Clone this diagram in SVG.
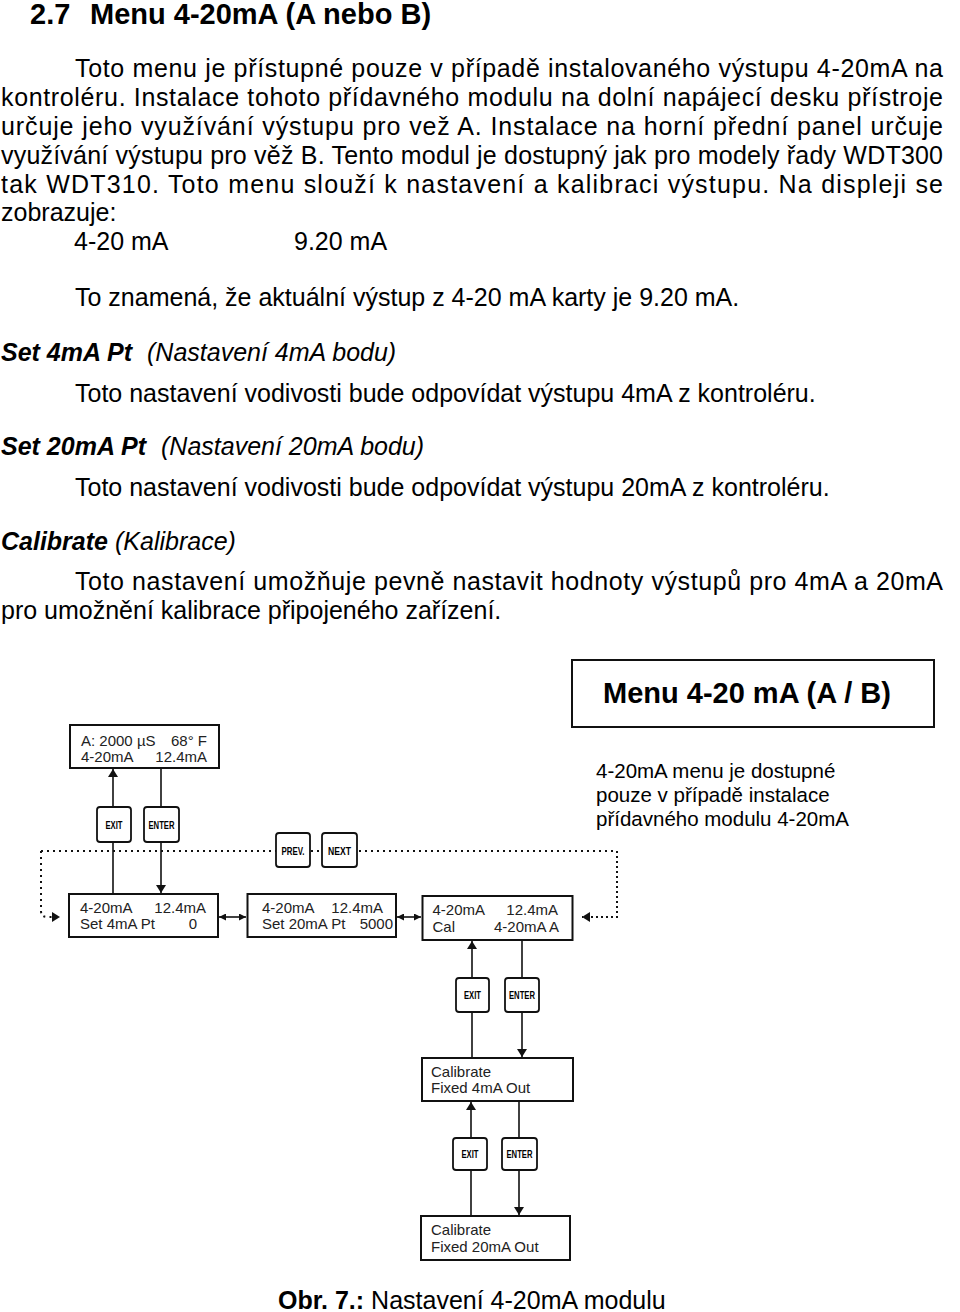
<svg xmlns="http://www.w3.org/2000/svg" width="960" height="1312" viewBox="0 0 960 1312">
<style>
text{font-family:"Liberation Sans",Arial,sans-serif;fill:#000}
.body{font-size:25px}
.h1{font-size:29px;font-weight:bold}
.bi{font-weight:bold;font-style:italic}
.it{font-style:italic}
.disp{fill:#fff;stroke:#111;stroke-width:2}
.dt{font-size:15px;fill:#222}
.btn{fill:#fff;stroke:#111;stroke-width:1.8}
.bt{font-size:10.5px;font-weight:bold;text-anchor:middle}
.ln{stroke:#111;stroke-width:1.6;fill:none}
.dot{stroke:#111;stroke-width:2;fill:none;stroke-dasharray:2 4}
.end{text-anchor:end}
</style>
<defs>
<marker id="ah" markerUnits="userSpaceOnUse" markerWidth="8" markerHeight="10" refX="8" refY="5" orient="auto"><path d="M0,0 L8,5 L0,10 z" fill="#111"/></marker>
<marker id="as" markerUnits="userSpaceOnUse" markerWidth="7" markerHeight="7" refX="7" refY="3.5" orient="auto-start-reverse"><path d="M0,0 L7,3.5 L0,7 z" fill="#111"/></marker>
</defs>

<g id="page-text">
<text class="h1" x="30" y="24">2.7<tspan x="90">Menu 4-20mA (A nebo B)</tspan></text>
<text class="body" x="75" y="77" textLength="868" lengthAdjust="spacing">Toto menu je přístupné pouze v případě instalovaného výstupu 4-20mA na</text>
<text class="body" x="1" y="106" textLength="942" lengthAdjust="spacing">kontroléru. Instalace tohoto přídavného modulu na dolní napájecí desku přístroje</text>
<text class="body" x="1" y="135" textLength="942" lengthAdjust="spacing">určuje jeho využívání výstupu pro vež A. Instalace na horní přední panel určuje</text>
<text class="body" x="1" y="164" textLength="942" lengthAdjust="spacing">využívání výstupu pro věž B. Tento modul je dostupný jak pro modely řady WDT300</text>
<text class="body" x="1" y="193" textLength="942" lengthAdjust="spacing">tak WDT310. Toto menu slouží k nastavení a kalibraci výstupu. Na displeji se</text>
<text class="body" x="1" y="221">zobrazuje:</text>
<text class="body" x="74" y="250">4-20 mA<tspan x="294">9.20 mA</tspan></text>
<text class="body" x="75" y="306">To znamená, že aktuální výstup z 4-20 mA karty je 9.20 mA.</text>
<text class="body" x="1" y="361"><tspan class="bi">Set 4mA Pt</tspan><tspan class="it" x="147">(Nastavení 4mA bodu)</tspan></text>
<text class="body" x="75" y="402">Toto nastavení vodivosti bude odpovídat výstupu 4mA z kontroléru.</text>
<text class="body" x="1" y="455"><tspan class="bi">Set 20mA Pt</tspan><tspan class="it" x="161">(Nastavení 20mA bodu)</tspan></text>
<text class="body" x="75" y="496">Toto nastavení vodivosti bude odpovídat výstupu 20mA z kontroléru.</text>
<text class="body" x="1" y="550"><tspan class="bi">Calibrate</tspan><tspan class="it" x="115">(Kalibrace)</tspan></text>
<text class="body" x="75" y="590" textLength="868" lengthAdjust="spacing">Toto nastavení umožňuje pevně nastavit hodnoty výstupů pro 4mA a 20mA</text>
<text class="body" x="1" y="619">pro umožnění kalibrace připojeného zařízení.</text>
<text class="body" x="278" y="1309"><tspan font-weight="bold">Obr. 7.:</tspan> Nastavení 4-20mA modulu</text>
</g>

<g id="connectors">
<path class="dot" d="M41,851 H617"/>
<path class="dot" d="M41,851 V911 Q41,917 47,917 H60" marker-end="url(#ah)"/>
<path class="dot" d="M617,851 V917 H582" style="stroke-dasharray:2 3" marker-end="url(#ah)"/>
<line class="ln" x1="113" y1="807" x2="113" y2="769" marker-end="url(#ah)"/>
<line class="ln" x1="113" y1="842" x2="113" y2="895"/>
<line class="ln" x1="161" y1="768" x2="161" y2="807"/>
<line class="ln" x1="161" y1="842" x2="161" y2="893" marker-end="url(#ah)"/>
<line class="ln" x1="219" y1="917" x2="246" y2="917" marker-start="url(#as)" marker-end="url(#as)"/>
<line class="ln" x1="397" y1="917" x2="421" y2="917" marker-start="url(#as)" marker-end="url(#as)"/>
<line class="ln" x1="472" y1="978" x2="472" y2="941" marker-end="url(#ah)"/>
<line class="ln" x1="472" y1="1012" x2="472" y2="1058"/>
<line class="ln" x1="522" y1="940" x2="522" y2="978"/>
<line class="ln" x1="522" y1="1012" x2="522" y2="1057" marker-end="url(#ah)"/>
<line class="ln" x1="471" y1="1138" x2="471" y2="1102" marker-end="url(#ah)"/>
<line class="ln" x1="471" y1="1170" x2="471" y2="1216"/>
<line class="ln" x1="519" y1="1101" x2="519" y2="1138"/>
<line class="ln" x1="519" y1="1170" x2="519" y2="1215" marker-end="url(#ah)"/>
</g>

<g id="menu-title">
<rect x="572" y="660" width="362" height="67" fill="#fff" stroke="#111" stroke-width="2"/>
<text x="603" y="703" style="font-size:29px;font-weight:bold">Menu 4-20 mA (A / B)</text>
</g>
<g id="note">
<text x="596" y="778" style="font-size:20.5px">4-20mA menu je dostupné</text>
<text x="596" y="802" style="font-size:20.5px">pouze v případě instalace</text>
<text x="596" y="826" style="font-size:20.5px">přídavného modulu 4-20mA</text>
</g>

<g id="display-main">
<rect class="disp" x="70" y="725" width="149" height="43"/>
<text class="dt" x="81" y="746">A: 2000 µS</text>
<text class="dt end" x="207" y="746">68° F</text>
<text class="dt" x="81" y="762">4-20mA</text>
<text class="dt end" x="207" y="762">12.4mA</text>
</g>
<g id="btn-exit-1"><rect class="btn" x="97" y="807" width="34" height="35" rx="3"/><text class="bt" x="114" y="828.5" textLength="17" lengthAdjust="spacingAndGlyphs">EXIT</text></g>
<g id="btn-enter-1"><rect class="btn" x="144" y="807" width="35" height="35" rx="3"/><text class="bt" x="161.5" y="828.5" textLength="26" lengthAdjust="spacingAndGlyphs">ENTER</text></g>
<g id="btn-prev"><rect class="btn" x="276" y="833" width="34" height="34" rx="3"/><text class="bt" x="293" y="854.5" textLength="23" lengthAdjust="spacingAndGlyphs">PREV.</text></g>
<g id="btn-next"><rect class="btn" x="322" y="833" width="35" height="34" rx="3"/><text class="bt" x="339.5" y="854.5" textLength="23" lengthAdjust="spacingAndGlyphs">NEXT</text></g>

<g id="set4">
<rect class="disp" x="69" y="894" width="149" height="43"/>
<text class="dt" x="80" y="913">4-20mA</text>
<text class="dt end" x="206" y="913">12.4mA</text>
<text class="dt" x="80" y="929">Set 4mA Pt</text>
<text class="dt end" x="197" y="929">0</text>
</g>
<g id="set20">
<rect class="disp" x="247.5" y="894" width="148.5" height="43"/>
<text class="dt" x="262" y="913">4-20mA</text>
<text class="dt end" x="383" y="913">12.4mA</text>
<text class="dt" x="262" y="929">Set 20mA Pt</text>
<text class="dt end" x="393" y="929">5000</text>
</g>
<g id="cal">
<rect class="disp" x="422.5" y="896" width="150" height="44"/>
<text class="dt" x="432.5" y="915">4-20mA</text>
<text class="dt end" x="558" y="915">12.4mA</text>
<text class="dt" x="432.5" y="932">Cal</text>
<text class="dt end" x="559" y="932">4-20mA A</text>
</g>
<g id="btn-exit-2"><rect class="btn" x="456" y="978" width="33" height="34" rx="3"/><text class="bt" x="472.5" y="999" textLength="17" lengthAdjust="spacingAndGlyphs">EXIT</text></g>
<g id="btn-enter-2"><rect class="btn" x="505" y="978" width="34" height="34" rx="3"/><text class="bt" x="522" y="999" textLength="26" lengthAdjust="spacingAndGlyphs">ENTER</text></g>
<g id="cal4">
<rect class="disp" x="422" y="1058" width="151" height="43"/>
<text class="dt" x="431" y="1077">Calibrate</text>
<text class="dt" x="431" y="1093">Fixed 4mA Out</text>
</g>
<g id="btn-exit-3"><rect class="btn" x="453" y="1138" width="34" height="32" rx="3"/><text class="bt" x="470" y="1158" textLength="17" lengthAdjust="spacingAndGlyphs">EXIT</text></g>
<g id="btn-enter-3"><rect class="btn" x="502" y="1138" width="35" height="32" rx="3"/><text class="bt" x="519.5" y="1158" textLength="26" lengthAdjust="spacingAndGlyphs">ENTER</text></g>
<g id="cal20">
<rect class="disp" x="421" y="1216" width="149" height="44"/>
<text class="dt" x="431" y="1235">Calibrate</text>
<text class="dt" x="431" y="1252">Fixed 20mA Out</text>
</g>
</svg>
